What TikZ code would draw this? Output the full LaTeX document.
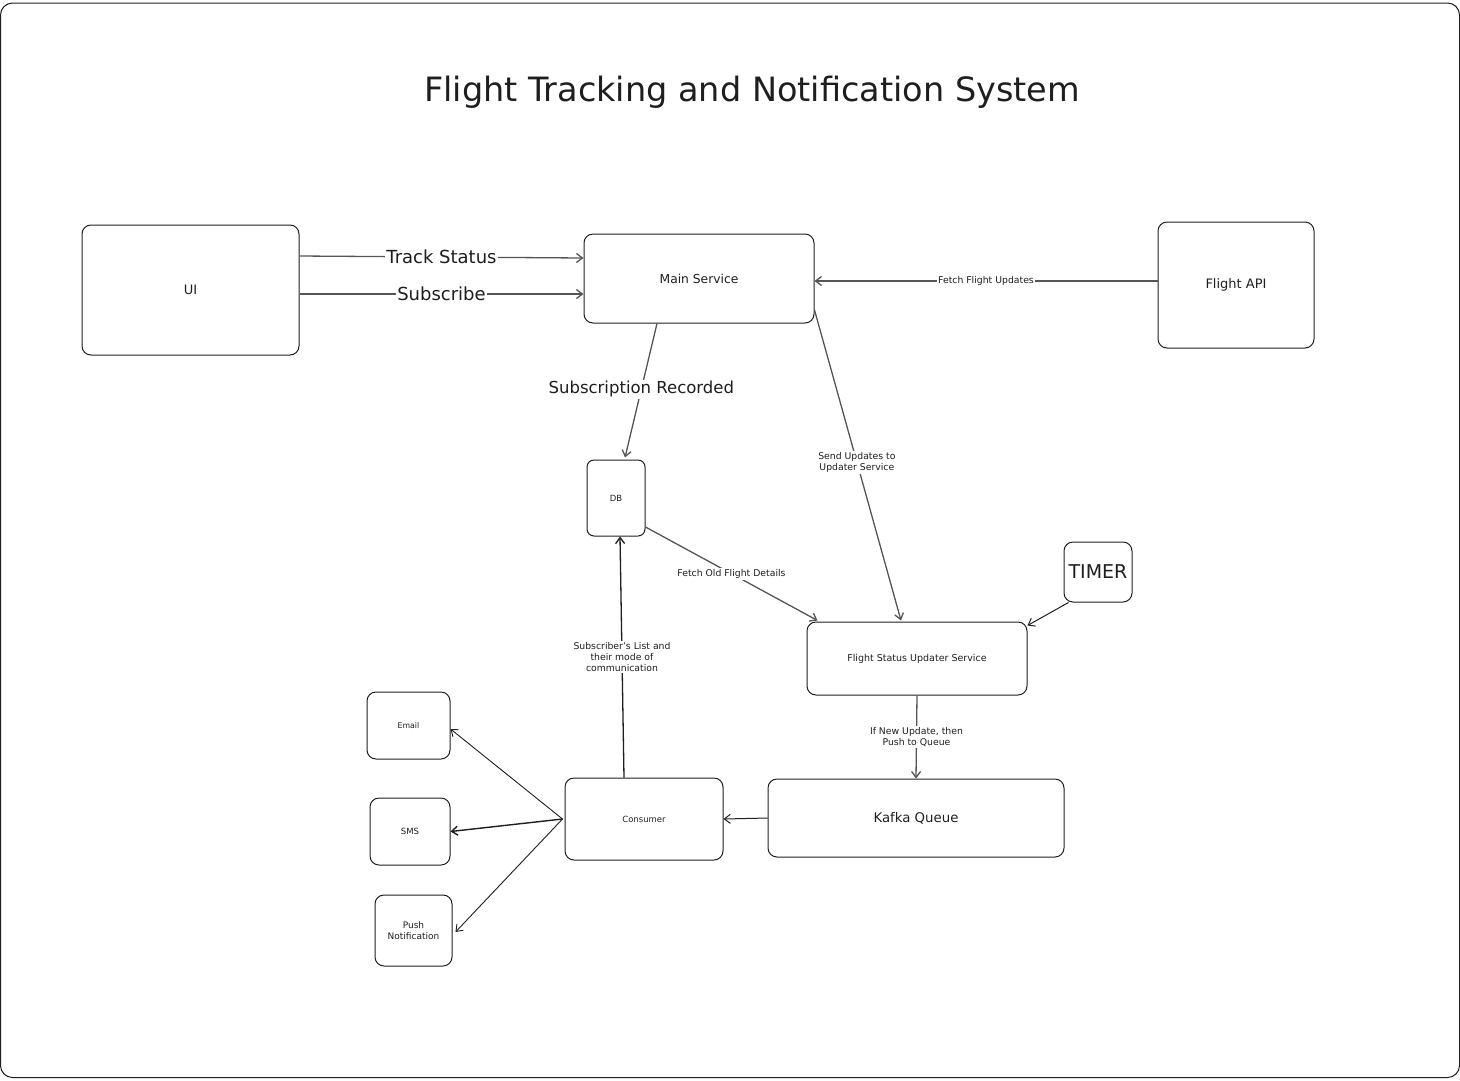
\documentclass[tikz,border=0pt]{standalone}
\usepackage{fontspec}
\setmainfont{DejaVu Sans}
\usepackage{tikz}
\usetikzlibrary{arrows.meta, positioning}
\definecolor{inchiostro}{HTML}{1E1E1E}
\definecolor{freccia}{HTML}{555555}
\newcommand{\dimensione}[2]{\fontsize{#1}{#2}\selectfont}

\begin{document}
\begin{tikzpicture}[x = 1pt, y = -1pt,
    scatola/.style = {draw = inchiostro, line width = 1pt, rounded corners = 9pt, align = center, text = inchiostro, inner sep = 0pt},
    freccina/.style = {draw = freccia, line width = 1.3pt, -{Straight Barb[length = 6pt, width = 9pt]}},
    etichetta/.style = {fill = white, inner sep = 1.5pt, text = inchiostro, align = center, font = \dimensione{9.3}{11}}]
    % Cornice
    \useasboundingbox (0,0) rectangle (1460,1080);
    \draw[inchiostro, line width = 1pt, rounded corners = 12pt] (0.5,3) rectangle (1459.5,1077.5);
    % Titolo
    \node[text = inchiostro, font = \dimensione{33.5}{38}] (titolo) at (752,92) {Flight Tracking and Notification System};
    % Scatole
    \node[scatola, minimum width = 217pt, minimum height = 130pt, font = \dimensione{13}{15}] (ui) at (190.5,290) {UI};
    \node[scatola, minimum width = 230pt, minimum height = 89pt, font = \dimensione{12.3}{14}] (mainsrv) at (699,278.5) {Main Service};
    \node[scatola, minimum width = 156pt, minimum height = 126pt, font = \dimensione{13}{15}] (flightapi) at (1236,285) {Flight API};
    \node[scatola, minimum width = 58pt, minimum height = 76pt, rounded corners = 7pt, font = \dimensione{8.5}{10}] (db) at (616,498) {DB};
    \node[scatola, minimum width = 68pt, minimum height = 60pt, font = \dimensione{19}{21}] (timer) at (1098,572) {TIMER};
    \node[scatola, minimum width = 220pt, minimum height = 73pt, font = \dimensione{9.5}{11}] (updater) at (917,658.5) {Flight Status Updater Service};
    \node[scatola, minimum width = 296pt, minimum height = 78pt, font = \dimensione{13.3}{15}] (kafka) at (916,818) {Kafka Queue};
    \node[scatola, minimum width = 158pt, minimum height = 82pt, font = \dimensione{8.5}{10}] (consumer) at (644,819) {Consumer};
    \node[scatola, minimum width = 83pt, minimum height = 67pt, font = \dimensione{7.8}{9}] (email) at (408.5,725.5) {Email};
    \node[scatola, minimum width = 80pt, minimum height = 67pt, font = \dimensione{8.5}{10}] (sms) at (410,831.5) {SMS};
    \node[scatola, minimum width = 77pt, minimum height = 71pt, font = \dimensione{9}{10.5}] (push) at (413.5,930.5) {Push\\Notification};
    % Frecce in alto
    \draw[freccina] ([yshift = 34pt]ui.east) -- ([yshift = 20.5pt]mainsrv.west) node[midway, etichetta, font = \dimensione{18}{20}]{Track Status};
    \draw[freccina] ([yshift = -4pt]ui.east) -- ([yshift = -15.5pt]mainsrv.west) node[midway, etichetta, font = \dimensione{18}{20}]{Subscribe};
    \draw[freccina] ([yshift = 4pt]flightapi.west) -- ([yshift = -2.5pt]mainsrv.east) node[midway, etichetta]{Fetch Flight Updates};
    % Main Service verso DB e Updater
    \draw[freccina] ([xshift = -42pt]mainsrv.south) -- ([xshift = 9pt, yshift = 2pt]db.north) node[pos = 0.49, etichetta, font = \dimensione{16.5}{19}]{Subscription Recorded};
    \draw[freccina] ([yshift = -31.5pt]mainsrv.east) -- ([xshift = -16pt, yshift = 1pt]updater.north) node[pos = 0.49, etichetta]{Send Updates to\\Updater Service};
    \draw[freccina] ([yshift = -29pt]db.east) -- ([xshift = 11pt, yshift = 1pt]updater.north west) node[midway, etichetta]{Fetch Old Flight Details};
    \draw[freccina, draw = inchiostro, line width = 1pt] ([xshift = 5pt]timer.south west) -- ([yshift = -4pt]updater.north east);
    % Updater, coda e consumer
    \draw[freccina] (updater.south) -- (kafka.north) node[midway, etichetta]{If New Update, then\\Push to Queue};
    \draw[freccina, draw = inchiostro, line width = 1pt] (kafka.west) -- (consumer.east);
    \draw[freccina, draw = inchiostro] ([xshift = -20pt]consumer.north) -- ([xshift = 4pt]db.south) node[midway, etichetta]{Subscriber's List and\\their mode of\\communication};
    % Notifiche
    \draw[freccina, draw = inchiostro, line width = 0.9pt] ([xshift = -2pt]consumer.west) -- ([yshift = -3.5pt]email.east);
    \draw[freccina, draw = inchiostro, line width = 1.4pt] ([xshift = -2pt]consumer.west) -- (sms.east);
    \draw[freccina, draw = inchiostro, line width = 0.9pt] ([xshift = -2pt]consumer.west) -- ([xshift = 3pt, yshift = -1.5pt]push.east);
\end{tikzpicture}
\end{document}
